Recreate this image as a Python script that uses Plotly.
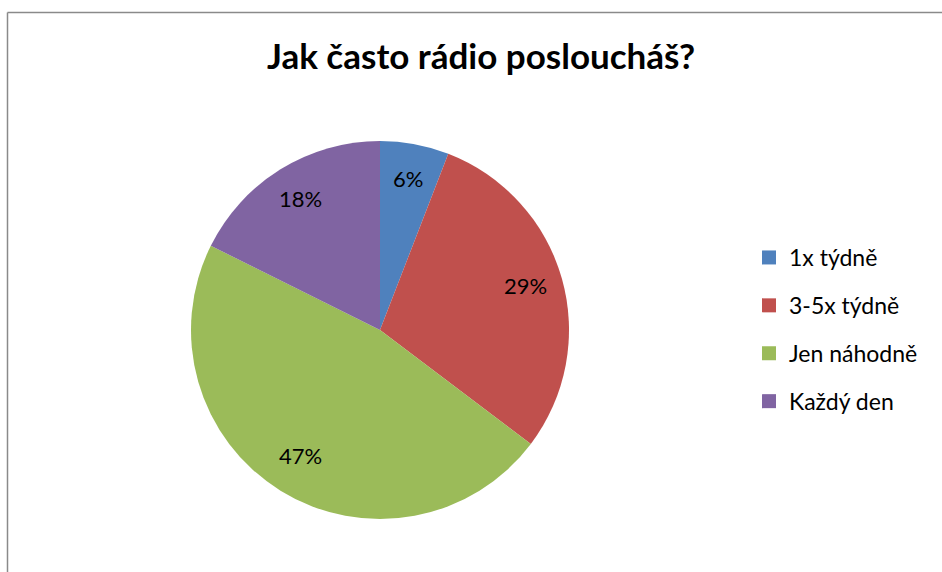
import numpy as np
import plotly.graph_objects as go

categories = ["1x týdně", "3-5x týdně", "Jen náhodně", "Každý den"]
values = [1, 5, 8, 3]
colors = ["#4F81BD", "#C0504D", "#9BBB59", "#8064A2"]
title_text = "Jak často rádio posloucháš?"

W, H = 942, 572
cx, cy, R = 380, 330, 189
FONT = "Lato"

fig = go.Figure()
fig.add_trace(go.Pie(
    labels=categories, values=values, sort=False, direction="clockwise", rotation=0,
    marker=dict(colors=colors, line=dict(width=0)),
    textinfo="none",
    domain=dict(x=[(cx - R) / W, (cx + R) / W], y=[1 - (cy + R) / H, 1 - (cy - R) / H]),
    showlegend=False, hoverinfo="label+percent",
))

# percentage labels placed at 80% of the radius, at each slice's mid angle
vals = np.array(values, dtype=float)
frac = vals / vals.sum()
mid = (np.cumsum(frac) - frac / 2) * 2 * np.pi  # clockwise from 12 o'clock
annotations = []
for f, a in zip(frac, mid):
    px = cx + 0.8 * R * np.sin(a)
    py = cy - 0.8 * R * np.cos(a)
    annotations.append(dict(
        x=px / W, y=1 - (py - 3) / H, xref="paper", yref="paper",
        text=f"{round(f * 100):.0f}%", showarrow=False, xanchor="center", yanchor="middle",
        font=dict(family=FONT, size=22, color="black"),
    ))

for name, col in zip(categories, colors):
    fig.add_trace(go.Scatter(
        x=[None], y=[None], mode="markers", name=name, legendgroup=name,
        marker=dict(symbol="square", size=14, color=col), showlegend=True,
    ))

fig.update_layout(
    width=W, height=H,
    margin=dict(l=0, r=0, t=0, b=0),
    paper_bgcolor="white", plot_bgcolor="white",
    xaxis=dict(visible=False), yaxis=dict(visible=False),
    title=dict(text=title_text, x=481 / W, xanchor="center", y=1 - 57 / H, yanchor="middle",
               yref="container", xref="container",
               font=dict(family=FONT, size=35, color="black", weight="bold")),
    legend=dict(x=749 / W, xanchor="left", y=1 - 236 / H, yanchor="top",
                font=dict(family=FONT, size=23, color="black"),
                tracegroupgap=15, bgcolor="rgba(0,0,0,0)", itemclick=False),
    annotations=annotations,
    shapes=[
        dict(type="line", xref="paper", yref="paper", x0=7.5 / W, x1=1.01, y0=1 - 12.5 / H, y1=1 - 12.5 / H,
             line=dict(color="#8a8a8a", width=1.5)),
        dict(type="line", xref="paper", yref="paper", x0=7.5 / W, x1=7.5 / W, y0=1 - 12.5 / H, y1=-0.01,
             line=dict(color="#8a8a8a", width=1.5)),
    ],
)

fig.write_html("out.html")
